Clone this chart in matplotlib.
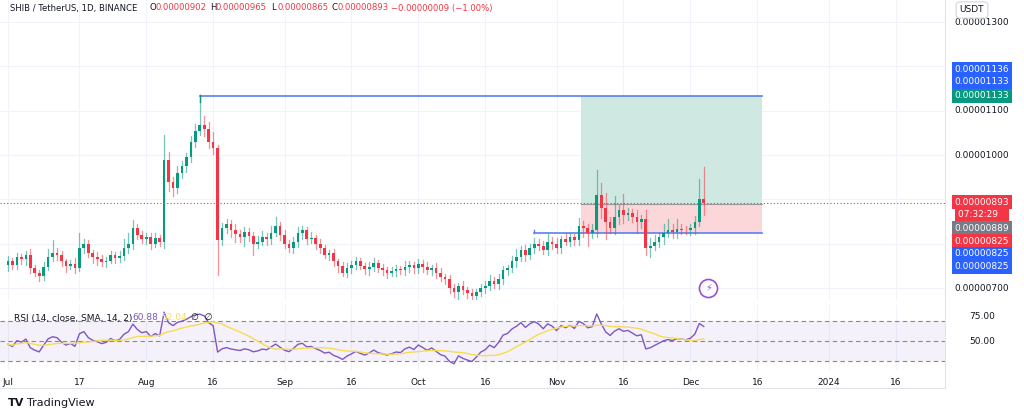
import numpy as np
import matplotlib
matplotlib.use("Agg")
import matplotlib.pyplot as plt
from matplotlib.transforms import blended_transform_factory as btf

# closes in units of 1e-8 USDT, Jul 1 .. Dec 4 (2023)
close_jul = [760,752,770,765,775,745,735,728,748,770,778,775,760,750,755,745,790,800,780,770,765,758,762,775,768,772,790,800,835,820,810]
close_aug = [815,800,812,805,990,940,925,960,975,995,1030,1055,1068,1060,1030,1015,808,835,845,830,822,815,826,818,800,805,815,810,825,840,820]
close_sep = [800,790,805,825,830,810,812,800,790,775,778,760,750,735,745,752,760,750,742,748,756,745,740,735,738,742,740,748,752,745]
close_oct = [755,748,740,745,735,725,720,700,690,705,695,688,682,690,700,705,715,708,720,740,745,760,770,785,775,790,800,795,785,805,800]
close_nov = [790,810,805,815,808,840,835,825,830,910,880,850,835,860,875,865,870,860,850,855,790,795,805,815,825,830,826,834,832,830]
close_dec = [835,850,902,893]
# upper / lower wick lengths (1e-8)
up_wick = [12,8,10,6,9,14,8,6,10,18,30,12,8,6,9,12,35,10,8,6,12,10,8,9,6,12,20,25,18,10,8,
           10,9,12,8,55,18,10,15,12,10,14,16,68,20,14,22,8,12,10,8,14,10,12,10,8,12,14,10,16,20,8,
           10,8,10,12,10,8,14,8,10,6,8,10,6,8,12,9,10,8,6,10,12,8,10,8,9,10,8,12,10,6,
           10,8,10,8,12,10,6,10,8,6,10,8,9,8,10,12,14,10,12,10,8,12,18,10,12,10,14,10,12,18,10,
           12,8,14,10,8,18,12,10,15,56,26,35,10,48,12,38,10,8,16,10,20,18,14,10,20,25,14,22,10,8,
           10,12,45,72]
lo_wick = [14,10,8,10,12,10,8,12,10,8,10,12,10,14,8,10,6,12,10,14,12,8,10,6,12,10,8,10,12,10,8,
           10,12,8,10,15,20,18,10,12,14,10,12,10,18,15,12,79,12,10,14,18,10,20,12,25,10,8,12,10,8,
           12,10,8,10,12,14,10,8,12,10,8,12,10,14,8,10,12,10,8,10,12,10,8,10,12,8,10,8,10,12,10,
           10,12,8,10,12,8,10,12,10,14,8,10,12,10,8,12,10,8,10,12,10,8,12,10,14,10,12,10,8,10,12,
           10,12,8,10,12,10,20,30,12,15,22,40,10,12,15,18,12,10,25,14,15,20,10,12,15,10,14,12,10,8,
           10,12,10,28]
month_ticks = [0,16,31,46,62,77,92,107,123,138,153,168,184,199]
month_labels = ["Jul","17","Aug","16","Sep","16","Oct","16","Nov","16","Dec","16","2024","16"]
price_ticks = [700,800,900,1000,1100,1200,1300]
last_price = 893
stop_level = 825
target_level = 1133
entry_level = 889

closes = np.array(close_jul+close_aug+close_sep+close_oct+close_nov+close_dec, float)
n = len(closes)
d = np.arange(n)
opens = np.r_[closes[0]-8, closes[:-1]]
opens[-1] = 902
highs = np.maximum(opens, closes) + np.array(up_wick[:n])
lows = np.minimum(opens, closes) - np.array(lo_wick[:n])
highs[43] = 1136

# RSI 14 (Wilder) and SMA14
delta = np.diff(closes, prepend=closes[0])
gain = np.clip(delta, 0, None); loss = np.clip(-delta, 0, None)
ag = np.zeros(n); al = np.zeros(n)
ag[0] = gain[:14].mean(); al[0] = loss[:14].mean() + 1e-9
for i in range(1, n):
    ag[i] = (ag[i-1]*13 + gain[i])/14
    al[i] = (al[i-1]*13 + loss[i])/14
rsi = 100 - 100/(1 + ag/np.maximum(al, 1e-9))
rsi_sma = np.convolve(rsi, np.ones(14)/14, mode="full")[:n]
rsi_sma[:14] = np.cumsum(rsi)[:14]/np.arange(1, 15)

UP = "#089981"; DN = "#f23645"
fig = plt.figure(figsize=(10.24, 4.18), dpi=100)
fig.patch.set_facecolor("white")
W, H = 1024, 418
def rect(x0, y0, x1, y1):
    return [x0/W, 1-y1/H, (x1-x0)/W, (y1-y0)/H]
ax = fig.add_axes(rect(0, 0, 945, 300))
rx = fig.add_axes(rect(0, 305, 945, 370), sharex=ax)
px = 4.46
xl = (-8/px, 937/px)
ax.set_xlim(*xl)
ax.set_ylim(673, 1350)

for a in (ax, rx):
    for s in a.spines.values():
        s.set_visible(False)
    a.tick_params(length=0, labelleft=False, labelbottom=False)
    for t in month_ticks:
        a.axvline(t, color="#f0f3fa", lw=0.8, zorder=0)
for p in price_ticks:
    ax.axhline(p, color="#f0f3fa", lw=0.8, zorder=0)

# position tool
ax.fill_between([128.5, 169], entry_level, target_level, color="#cfe9e2", zorder=1, lw=0)
ax.fill_between([128.5, 169], stop_level, entry_level, color="#fbd7da", zorder=1, lw=0)
ax.plot([128.5, 169], [entry_level]*2, color="#999", lw=0.8, zorder=1)
ax.plot([43, 169], [target_level]*2, color="#5b7ff0", lw=1.2, zorder=2)
ax.plot([43, 43], [1120, 1136], color=UP, lw=1, zorder=2)
ax.plot([118, 169], [stop_level]*2, color="#5b7ff0", lw=1.2, zorder=2)
ax.plot([118, 118], [stop_level, 832], color="#5b7ff0", lw=1, zorder=2)
ax.axhline(last_price, color=DN, lw=0.8, ls=(0, (1, 2)), zorder=2)

for i in range(n):
    c = UP if closes[i] >= opens[i] else DN
    ax.plot([d[i], d[i]], [lows[i], highs[i]], color=c, lw=0.9, alpha=0.55, zorder=3)
    lo = min(opens[i], closes[i]); h = max(abs(closes[i]-opens[i]), 1.5)
    ax.bar(d[i], h, bottom=lo, width=0.6, color=c, zorder=4, lw=0)

# lightning icon
ax.plot(157, 700, marker="o", ms=13, mfc="white", mec="#9c4fd6", mew=1.2, zorder=5)
ax.text(157, 700, "⚡", color="#9c4fd6", ha="center", va="center", fontsize=7, zorder=6)

# header
FS = 6.5
HF = 6.1
hy = 1-8/300
ax.text(10/945, hy, "SHIB / TetherUS, 1D, BINANCE", transform=ax.transAxes, fontsize=HF, color="#131722", va="center")
items = [("O", "0.00000902", 149), ("H", "0.00000965", 210), ("L", "0.00000865", 271), ("C", "0.00000893", 331)]
for k, v, x0 in items:
    ax.text(x0/945, hy, k, transform=ax.transAxes, fontsize=HF, color="#131722", va="center")
    ax.text((x0+6)/945, hy, v, transform=ax.transAxes, fontsize=HF, color=DN, va="center")
ax.text(391/945, hy, "\u22120.00000009 (\u22121.00%)", transform=ax.transAxes, fontsize=HF, color=DN, va="center")

# right price scale
LX = 982/945
tr = btf(ax.transAxes, ax.transData)
for p in [700, 1000, 1100, 1300]:
    ax.text(LX, p, f"{p*1e-8:.8f}", transform=tr, fontsize=FS, color="#131722", ha="center", va="center", clip_on=False)
def tag(p, txt, col):
    ax.text(LX, p, txt, transform=tr, fontsize=FS, color="white", ha="center", va="center",
            clip_on=False, bbox=dict(boxstyle="square,pad=0.3", fc=col, ec="none"))
tag(1194, "0.00001136", "#2962ff")
tag(1165, "0.00001133", "#2962ff")
tag(1134, "0.00001133", "#089981")
tag(894, "0.00000893", DN)
tag(865, "07:32:29   ", DN)
tag(835, "0.00000889", "#787b86")
tag(806, "0.00000825", DN)
tag(777, "0.00000825", "#2962ff")
tag(748, "0.00000825", "#2962ff")
fig.text(972/W, 1-10/H, "USDT", fontsize=FS, color="#131722", ha="center", va="center",
         bbox=dict(boxstyle="round,pad=0.4", fc="white", ec="#d1d4dc", lw=0.8))

# RSI panel
rx.set_ylim(21, 86.5)
rx.axhspan(30, 70, color="#7e57c2", alpha=0.08, lw=0)
for lv in (70, 50, 30):
    rx.axhline(lv, color="#888", lw=0.8, ls=(0, (4, 3)))
rx.plot(d, rsi, color="#7e57c2", lw=1)
rx.plot(d, rsi_sma, color="#f7dc52", lw=1)
rtr = btf(rx.transAxes, rx.transData)
for lv in (75, 50):
    rx.text(LX, lv, f"{lv:.2f}", transform=rtr, fontsize=FS, color="#131722", ha="center", va="center", clip_on=False)
rx.text(14/945, 0.8, "RSI (14, close, SMA, 14, 2)", transform=rx.transAxes, fontsize=FS, color="#131722", va="center")
rx.text(132/945, 0.8, "60.88", transform=rx.transAxes, fontsize=FS, color="#7e57c2", va="center")
rx.text(161/945, 0.8, "52.04", transform=rx.transAxes, fontsize=FS, color="#f7dc52", va="center")
rx.text(191/945, 0.8, "\u2205  \u2205", transform=rx.transAxes, fontsize=FS, color="#131722", va="center")
for t, lab in zip(month_ticks, month_labels):
    rx.text(t, -0.12, lab, transform=btf(rx.transData, rx.transAxes), fontsize=FS, color="#131722",
            ha="center", va="top", clip_on=False)
fig.add_artist(plt.Line2D([0, 945/W], [1-388/H]*2, color="#e0e3eb", lw=0.8))
fig.add_artist(plt.Line2D([945/W]*2, [1-388/H, 1], color="#e0e3eb", lw=0.8))
fig.text(8/W, 1-403/H, "TV", fontsize=8, fontweight="bold", color="#131722", va="center")
fig.text(27/W, 1-403/H, "TradingView", fontsize=8, color="#131722", va="center")
fig.savefig("out.png", dpi=100, facecolor="white")
